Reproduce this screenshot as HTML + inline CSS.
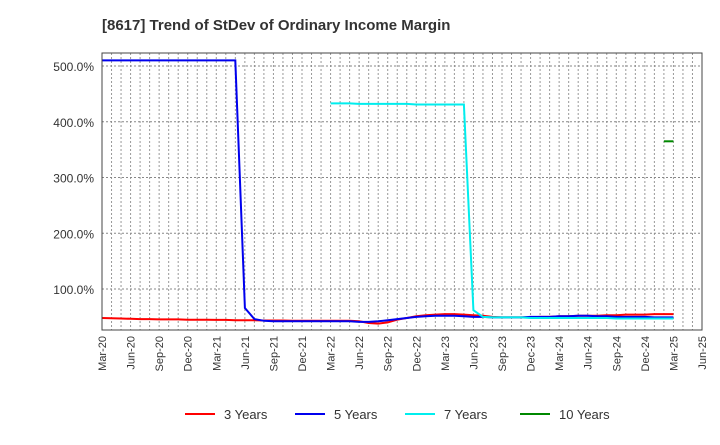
<!DOCTYPE html>
<html><head><meta charset="utf-8"><style>
body{margin:0;background:#fff;font-family:"Liberation Sans",Arial,sans-serif}
svg text{font-family:"Liberation Sans",Arial,sans-serif}
</style></head><body>
<svg id="c" width="720" height="440" xmlns="http://www.w3.org/2000/svg">
<text x="102" y="30" font-size="15" font-weight="bold" fill="#333">[8617]  Trend of StDev of Ordinary Income Margin</text>
<g id="grid"></g><g id="series"></g><g id="axes"></g><g id="legend"></g>
</svg>
<script>
const xTickLabels=["Mar-20","Jun-20","Sep-20","Dec-20","Mar-21","Jun-21","Sep-21","Dec-21","Mar-22","Jun-22","Sep-22","Dec-22","Mar-23","Jun-23","Sep-23","Dec-23","Mar-24","Jun-24","Sep-24","Dec-24","Mar-25","Jun-25"];
const yTicks=[100,200,300,400,500];
const s3=[48,47.5,47,46.5,46,46,45.5,45.5,45.5,45,45,45,44.5,44.5,44,44,44,43.5,43.5,43.5,43,43,43,43,43,43,43,42,39,38,40,45,48,51,53,54,55,55,54,53,52,50,49,49,49,49,50,50,51,51,52,52,52,53,53,54,54,54,55,55,55];
const s5=[510,510,510,510,510,510,510,510,510,510,510,510,510,510,510,66,46,43,42,42,42,42,42,42,42,42,42,41,41,42,44,46,48,50,51,52,52,52,51,50,50,49,49,49,49,50,50,50,51,51,52,52,51,51,50,50,50,50,49,49,49];
const s7=[null,null,null,null,null,null,null,null,null,null,null,null,null,null,null,null,null,null,null,null,null,null,null,null,433,433,433,432,432,432,432,432,432,431,431,431,431,431,431,62,50,49,49,49,49,48,48,48,48,48,48,48,48,48,47,47,47,47,47,47,47];
const s10=[null,null,null,null,null,null,null,null,null,null,null,null,null,null,null,null,null,null,null,null,null,null,null,null,null,null,null,null,null,null,null,null,null,null,null,null,null,null,null,null,null,null,null,null,null,null,null,null,null,null,null,null,null,null,null,null,null,null,null,365,365];
const seriesNames=["3 Years","5 Years","7 Years","10 Years"];
const colors=["#ff0000","#0000ee","#00eeee","#008800"];
const L=102,R=702,T=53,B=330,NS="http://www.w3.org/2000/svg";
const nMonths=(xTickLabels.length-1)*3;
const x=m=>L+m*(R-L)/nMonths;
const y=v=>289-(v-100)*0.5575;
function mk(t,a,p){const e=document.createElementNS(NS,t);for(const k in a)e.setAttribute(k,a[k]);p.appendChild(e);return e;}
const g=document.getElementById('grid');
for(let m=1;m<nMonths;m++){const l=mk('line',{x1:x(m),x2:x(m),y1:T,y2:B,stroke:'#999','stroke-dasharray':'2,2','stroke-width':1},g);

}
yTicks.forEach(v=>{const l=mk('line',{x1:L,x2:R,y1:y(v),y2:y(v),stroke:'#888','stroke-dasharray':'2,2','stroke-width':1},g);


const t=mk('text',{x:L-8,y:y(v)+5,'text-anchor':'end','font-size':12,fill:'#333'},g);t.textContent=v.toFixed(1)+'%';

});
const a=document.getElementById('axes');
const fr=mk('rect',{x:L,y:T,width:R-L,height:B-T,fill:'none',stroke:'#444','stroke-width':1},a);


xTickLabels.forEach((s,i)=>{const px=x(i*3);const t=mk('text',{x:0,y:0,'text-anchor':'end','font-size':11,fill:'#333',transform:`translate(${px+4},${B+6}) rotate(-90)`},a);t.textContent=s;

});
const sg=document.getElementById('series');
[s3,s5,s7,s10].forEach((arr,k)=>{let d='',pen=false;arr.forEach((v,i)=>{if(v==null){pen=false;return;}d+=(pen?'L':'M')+x(i).toFixed(1)+','+y(v).toFixed(1);pen=true;});
const p=mk('path',{d:d,fill:'none',stroke:colors[k],'stroke-width':2},sg);

});
const lg=document.getElementById('legend');
const lx=[185,295,405,520];
seriesNames.forEach((n,k)=>{const e=mk('g',{},lg);


mk('line',{x1:lx[k],x2:lx[k]+30,y1:414,y2:414,stroke:colors[k],'stroke-width':2},e);
const t=mk('text',{x:lx[k]+39,y:419,'font-size':13,fill:'#333'},e);t.textContent=n;});
</script>
</body></html>
